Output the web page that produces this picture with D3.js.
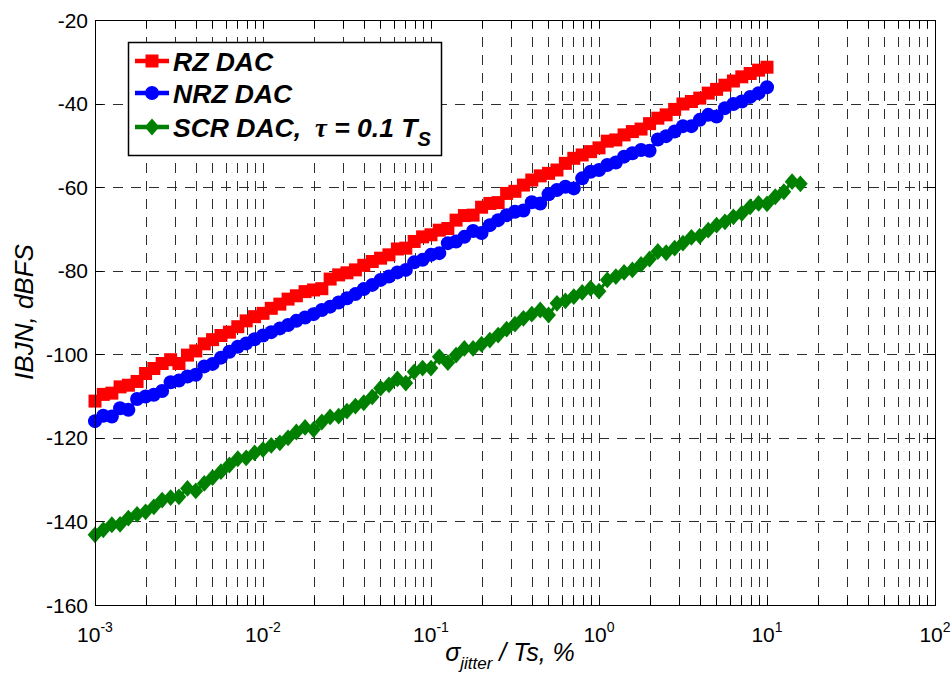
<!DOCTYPE html>
<html>
<head>
<meta charset="utf-8">
<script src="https://cdn.jsdelivr.net/npm/d3@7"></script>
<style>
  html, body { margin: 0; padding: 0; background: #fff; }
  svg { display: block; }
  text { font-family: "Liberation Sans", Arial, sans-serif; fill: #000; }
</style>
</head>
<body>
<svg id="chart" width="952" height="680"></svg>
<script>
// Jitter (σ/Ts, %) sample grid, 20 points per decade
const sigmaPct = [
  1.00e-3, 1.12e-3, 1.26e-3, 1.41e-3, 1.58e-3, 1.78e-3, 2.00e-3, 2.24e-3, 2.51e-3, 2.82e-3,
  3.16e-3, 3.55e-3, 3.98e-3, 4.47e-3, 5.01e-3, 5.62e-3, 6.31e-3, 7.08e-3, 7.94e-3, 8.91e-3,
  1.00e-2, 1.12e-2, 1.26e-2, 1.41e-2, 1.58e-2, 1.78e-2, 2.00e-2, 2.24e-2, 2.51e-2, 2.82e-2,
  3.16e-2, 3.55e-2, 3.98e-2, 4.47e-2, 5.01e-2, 5.62e-2, 6.31e-2, 7.08e-2, 7.94e-2, 8.91e-2,
  1.00e-1, 1.12e-1, 1.26e-1, 1.41e-1, 1.58e-1, 1.78e-1, 2.00e-1, 2.24e-1, 2.51e-1, 2.82e-1,
  3.16e-1, 3.55e-1, 3.98e-1, 4.47e-1, 5.01e-1, 5.62e-1, 6.31e-1, 7.08e-1, 7.94e-1, 8.91e-1,
  1.00, 1.12, 1.26, 1.41, 1.58, 1.78, 2.00, 2.24, 2.51, 2.82,
  3.16, 3.55, 3.98, 4.47, 5.01, 5.62, 6.31, 7.08, 7.94, 8.91,
  10.0, 11.2, 12.6, 14.1, 15.8
];

// In-band jitter noise, dBFS
const rzDac = [
  -111.2, -109.6, -109.3, -107.8, -107.4, -106.5, -104.6, -103.4, -102.2, -101.3,
  -102.2, -100.2, -99.2, -97.5, -96.5, -95.5, -94.7, -93.4, -92.0, -91.0,
  -90.2, -89.0, -88.0, -86.8, -86.0, -85.0, -84.6, -84.3, -82.0, -81.0,
  -80.5, -79.8, -78.7, -77.8, -77.0, -76.2, -74.8, -74.6, -73.0, -71.9,
  -71.4, -70.3, -69.9, -67.9, -66.8, -66.7, -64.8, -63.9, -63.7, -61.5,
  -61.0, -59.5, -58.3, -57.3, -56.7, -55.9, -54.3, -53.1, -52.3, -51.5,
  -50.6, -49.0, -48.7, -47.5, -46.7, -46.1, -44.8, -43.5, -42.7, -41.4,
  -40.1, -39.5, -38.7, -37.5, -36.6, -35.6, -34.6, -33.6, -32.8, -32.0,
  -31.3
];
const nrzDac = [
  -116.0, -114.7, -114.9, -112.9, -113.3, -110.7, -110.1, -109.7, -108.8, -106.7,
  -106.3, -105.3, -104.9, -102.9, -102.3, -100.8, -99.4, -98.2, -97.4, -96.4,
  -95.5, -94.7, -93.8, -93.0, -92.0, -91.2, -90.4, -89.4, -88.6, -87.6,
  -86.6, -85.6, -84.4, -83.4, -82.2, -81.4, -80.4, -79.8, -78.0, -77.4,
  -76.2, -75.8, -73.4, -73.0, -71.9, -70.5, -71.0, -69.1, -67.9, -66.7,
  -65.9, -65.6, -63.6, -63.9, -61.7, -60.7, -59.9, -60.3, -57.9, -56.3,
  -55.9, -54.7, -54.1, -52.7, -51.9, -51.1, -51.3, -48.6, -47.8, -46.7,
  -45.4, -45.4, -43.9, -42.7, -43.1, -41.1, -40.1, -39.5, -38.4, -37.5,
  -36.1
];
const scrDac = [
  -143.2, -142.0, -140.8, -140.7, -139.2, -138.3, -137.7, -136.5, -134.9, -134.3,
  -134.1, -132.1, -132.7, -130.9, -129.5, -128.1, -126.5, -125.0, -124.8, -123.6,
  -122.8, -121.8, -121.2, -120.0, -118.6, -117.5, -118.0, -116.2, -115.0, -114.8,
  -113.6, -112.4, -111.6, -110.2, -108.1, -107.3, -105.9, -106.9, -104.2, -103.3,
  -103.3, -100.6, -102.0, -100.2, -98.6, -98.6, -97.6, -96.6, -95.4, -94.0,
  -92.8, -91.4, -90.4, -89.4, -90.6, -87.8, -87.2, -86.2, -85.2, -84.2,
  -84.9, -82.2, -81.4, -80.4, -79.8, -78.5, -77.2, -75.4, -75.7, -74.6,
  -73.4, -72.0, -71.7, -70.3, -69.1, -68.3, -67.1, -66.3, -64.7, -63.9,
  -64.0, -62.3, -61.1, -58.7, -59.2
];

const xDecadeExps = [-3, -2, -1, 0, 1, 2];
const yTickValues = [-160, -140, -120, -100, -80, -60, -40, -20];

const seriesNames = ["RZ DAC", "NRZ DAC", "SCR DAC"];
const seriesColors = ["#ff0000", "#0000ff", "#008000"];
const seriesMarkers = ["square", "circle", "diamond"];

// ---- layout ----
const svg = d3.select("#chart");
const plot = { left: 95, right: 935, top: 20, bottom: 605 };

const x = d3.scaleLog().domain([1e-3, 1e2]).range([plot.left, plot.right]);
const y = d3.scaleLinear().domain([-160, -20]).range([plot.bottom, plot.top]);

// minor + major x positions (every 1..9 x decade)
const xGridVals = [];
xDecadeExps.slice(0, -1).forEach(e => {
  for (let m = 1; m <= 9; m++) xGridVals.push(m * Math.pow(10, e));
});
xGridVals.push(1e2);

const gridColor = "#2e2e2e";
const g = svg.append("g");

// vertical dashed grid
g.append("g").selectAll("line")
  .data(xGridVals.filter(v => v > 1e-3 && v < 1e2))
  .join("line")
  .attr("x1", d => Math.round(x(d)) + 0.5).attr("x2", d => Math.round(x(d)) + 0.5)
  .attr("y1", plot.bottom).attr("y2", plot.top)
  .attr("stroke", gridColor).attr("stroke-width", 1)
  .attr("stroke-dasharray", "10,8");

// horizontal dashed grid
g.append("g").selectAll("line")
  .data(yTickValues.filter(v => v > -160 && v < -20))
  .join("line")
  .attr("x1", plot.left).attr("x2", plot.right)
  .attr("y1", d => Math.round(y(d)) + 0.5).attr("y2", d => Math.round(y(d)) + 0.5)
  .attr("stroke", gridColor).attr("stroke-width", 1)
  .attr("stroke-dasharray", "10,8");

// inward ticks on all four sides
const tickLen = 8;
const ticks = g.append("g").attr("stroke", "#000").attr("stroke-width", 1);
xGridVals.forEach(v => {
  const px = Math.round(x(v)) + 0.5;
  ticks.append("line").attr("x1", px).attr("x2", px).attr("y1", plot.bottom).attr("y2", plot.bottom - tickLen);
  ticks.append("line").attr("x1", px).attr("x2", px).attr("y1", plot.top).attr("y2", plot.top + tickLen);
});
yTickValues.forEach(v => {
  const py = Math.round(y(v)) + 0.5;
  ticks.append("line").attr("x1", plot.left).attr("x2", plot.left + tickLen).attr("y1", py).attr("y2", py);
  ticks.append("line").attr("x1", plot.right).attr("x2", plot.right - tickLen).attr("y1", py).attr("y2", py);
});

// ---- series ----
const markerSize = { square: 13, circle: 14, diamond: 14 };
function markerPath(type) {
  const h = markerSize[type] / 2;
  if (type === "square") return `M${-h},${-h}H${h}V${h}H${-h}Z`;
  if (type === "diamond") { const w = h * 1.05, v = h * 1.2; return `M0,${-v}L${w},0L0,${v}L${-w},0Z`; }
  return d3.symbol(d3.symbolCircle, Math.PI * h * h)();
}

const allSeries = [rzDac, nrzDac, scrDac];
const line = d3.line().x(d => x(d[0])).y(d => y(d[1]));
allSeries.forEach((vals, i) => {
  const pts = vals.map((v, k) => [sigmaPct[k], v]);
  const sg = svg.append("g");
  sg.append("path").attr("d", line(pts)).attr("fill", "none")
    .attr("stroke", seriesColors[i]).attr("stroke-width", 3);
  sg.selectAll("path.m").data(pts).join("path").attr("class", "m")
    .attr("transform", d => `translate(${x(d[0])},${y(d[1])})`)
    .attr("d", markerPath(seriesMarkers[i]))
    .attr("fill", seriesColors[i]);
});

// plot frame
svg.append("rect")
  .attr("x", plot.left + 0.5).attr("y", plot.top + 0.5)
  .attr("width", plot.right - plot.left).attr("height", plot.bottom - plot.top)
  .attr("fill", "none").attr("stroke", "#000").attr("stroke-width", 1);

// ---- axis labels ----
const yLab = svg.append("g").attr("font-size", 21).attr("text-anchor", "end");
yTickValues.forEach(v => {
  yLab.append("text").attr("x", plot.left - 7).attr("y", y(v)).attr("dy", "0.36em").text(v);
});

const xLab = svg.append("g").attr("font-size", 21).attr("text-anchor", "middle");
xDecadeExps.forEach(e => {
  const t = xLab.append("text").attr("x", x(Math.pow(10, e))).attr("y", 642);
  t.append("tspan").text("10");
  t.append("tspan").attr("font-size", 14).attr("dy", -10).text(String(e));
});

// x title: σ_jitter / Ts, %
const xt = svg.append("text").attr("x", 510).attr("y", 661)
  .attr("text-anchor", "middle").attr("font-size", 25).attr("font-style", "italic");
xt.append("tspan").text("σ");
xt.append("tspan").attr("font-size", 17).attr("dy", 8).text("jitter");
xt.append("tspan").attr("dy", -8).text(" / Ts, %");

// y title
svg.append("text")
  .attr("transform", "translate(33,312) rotate(-90)")
  .attr("text-anchor", "middle").attr("font-size", 26).attr("font-style", "italic")
  .text("IBJN, dBFS");

// ---- legend ----
const lg = svg.append("g");
lg.append("rect").attr("x", 128.5).attr("y", 42.5).attr("width", 313).attr("height", 113)
  .attr("fill", "#fff").attr("stroke", "#000").attr("stroke-width", 1.5);
const rowY = [61, 93, 127];
seriesNames.forEach((name, i) => {
  const cy = rowY[i];
  lg.append("line").attr("x1", 135).attr("x2", 169).attr("y1", cy).attr("y2", cy)
    .attr("stroke", seriesColors[i]).attr("stroke-width", 4.5);
  lg.append("path").attr("transform", `translate(152,${cy})`)
    .attr("d", markerPath(seriesMarkers[i]))
    .attr("fill", seriesColors[i]);
  const t = lg.append("text").attr("x", 173).attr("y", cy).attr("dy", "0.36em")
    .attr("font-size", 26.5).attr("font-weight", "bold").attr("font-style", "italic");
  if (i < 2) {
    t.text(name);
  } else {
    t.append("tspan").text(name + ",");
    t.append("tspan").attr("x", 314).attr("font-family", "'Liberation Serif', 'Times New Roman', serif").text("τ");
    t.append("tspan").text(" = 0.1 T");
    t.append("tspan").attr("font-size", 20).attr("dy", 9).text("S");
  }
});
// keep the τ gap explicit: place the τ group after the measured end of "SCR DAC,"
const scrText = lg.selectAll("text").filter((d, i) => i === 2);
scrText.each(function () {
  const first = this.firstChild;
  const end = first.getComputedTextLength() + 173;
  d3.select(this).select("tspan:nth-child(2)").attr("x", Math.max(end + 14, 312));
});
</script>
</body>
</html>
